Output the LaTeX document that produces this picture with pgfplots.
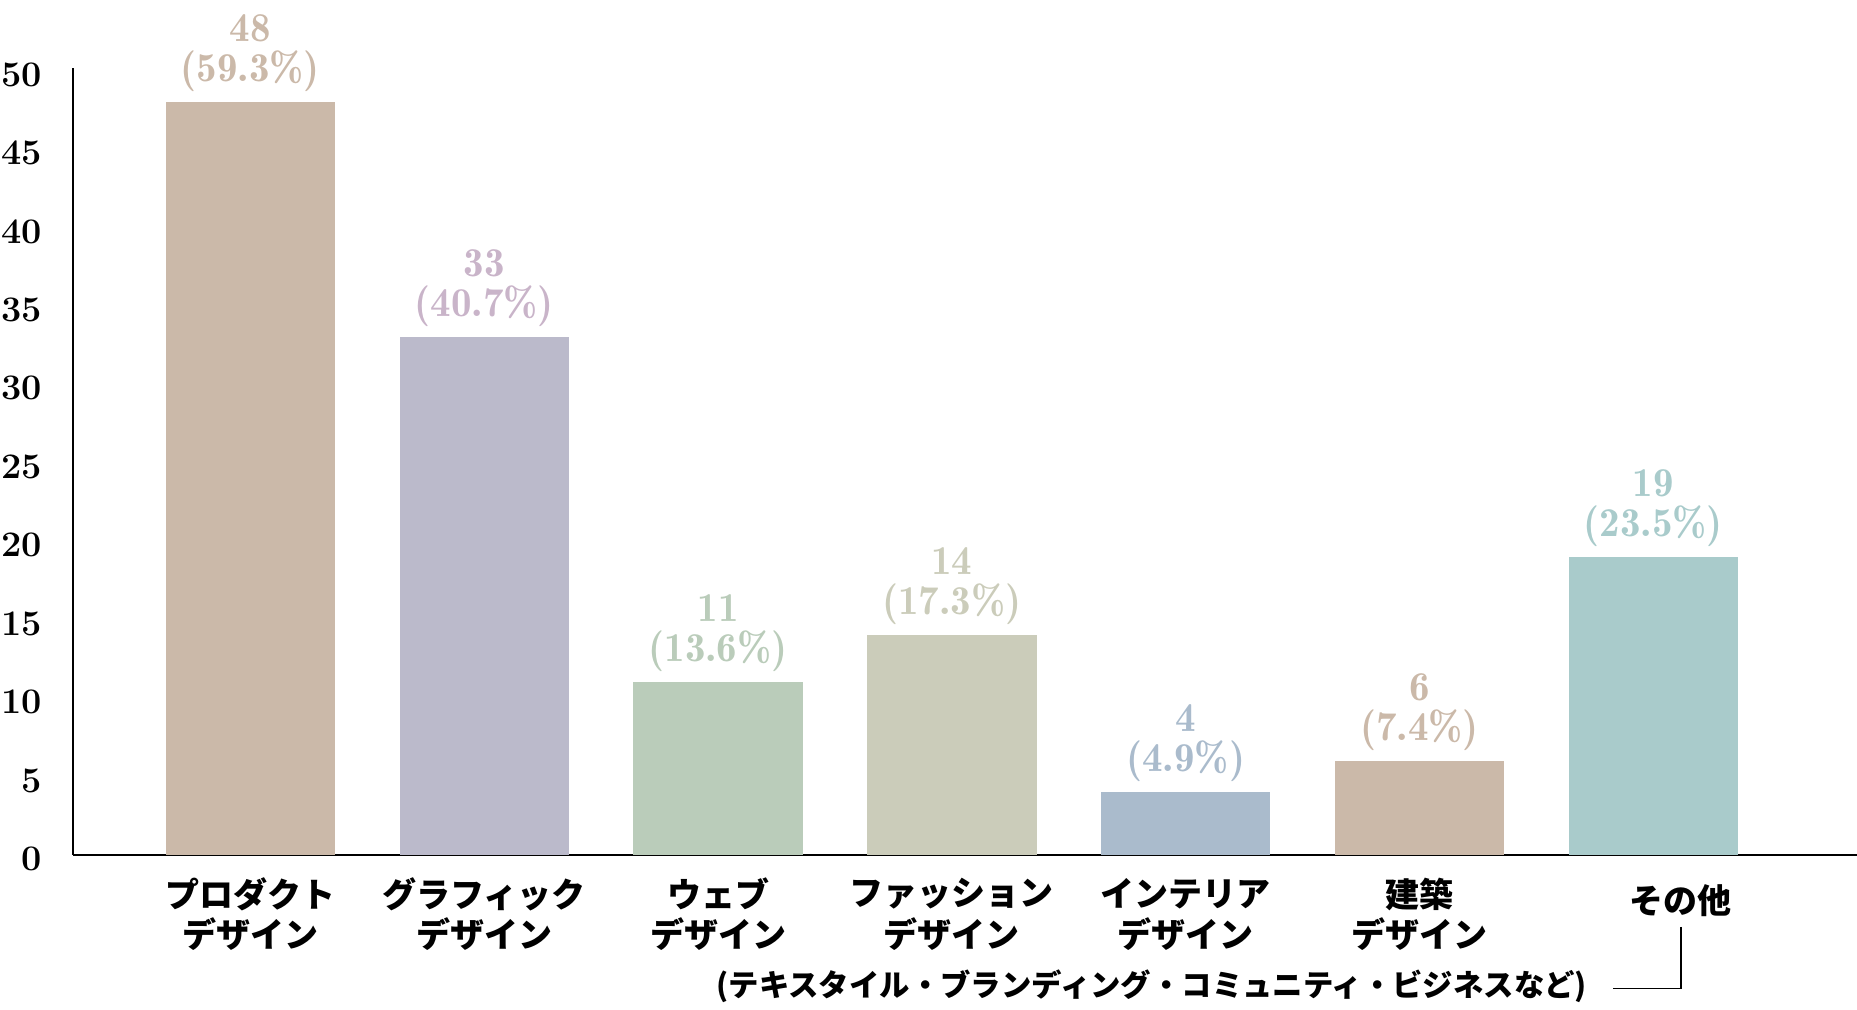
\documentclass[border=0pt]{standalone}
\usepackage{pgfplots}
\pgfplotsset{compat=1.18}
\usepackage{fontspec}
\newfontfamily\jp{Noto Sans CJK JP}
\newfontfamily\demi[Extension=.otf]{lmromandemi10-regular}
\definecolor{cA}{HTML}{CBB9A9}
\definecolor{cB}{HTML}{BBBACB}
\definecolor{cBt}{HTML}{C9B4C9}
\definecolor{cC}{HTML}{BACCBA}
\definecolor{cD}{HTML}{CBCCBA}
\definecolor{cE}{HTML}{AABBCC}
\definecolor{cG}{HTML}{A9CBCB}
\begin{document}
\begin{tikzpicture}
\useasboundingbox (0,0) rectangle (928.5pt,505pt);
\begin{axis}[
  at={(36.5pt,77.5pt)}, anchor=south west,
  scale only axis, width=892pt, height=393.4pt,
  xmin=-0.759, xmax=6.871, ymin=0, ymax=50.15,
  axis x line=bottom, axis y line=left,
  axis line style={-, line width=1pt, black},
  xtick=\empty,
  ytick={0,5,...,50},
  major tick length=0pt,
  yticklabel style={font=\fontsize{18}{18}\selectfont\bfseries, anchor=east, inner sep=0pt, xshift=-15.5pt, yshift=-2pt},
  /pgf/number format/assume math mode=true,
  clip=false,
  ybar, bar width=84.75pt, bar shift=0pt,
  every node near coord/.append style={align=center, anchor=south, inner sep=0pt, yshift=5pt, font=\demi\fontsize{20.5}{20}\selectfont},
]
\addplot[fill=cA, draw=none, nodes near coords={\pgfmathprintnumber{\pgfplotspointmeta}\\(59.3\%)}, every node near coord/.append style={text=cA}] coordinates {(0,48)};
\addplot[fill=cB, draw=none, nodes near coords={\pgfmathprintnumber{\pgfplotspointmeta}\\(40.7\%)}, every node near coord/.append style={text=cBt}] coordinates {(1,33)};
\addplot[fill=cC, draw=none, nodes near coords={\pgfmathprintnumber{\pgfplotspointmeta}\\(13.6\%)}, every node near coord/.append style={text=cC}] coordinates {(2,11)};
\addplot[fill=cD, draw=none, nodes near coords={\pgfmathprintnumber{\pgfplotspointmeta}\\(17.3\%)}, every node near coord/.append style={text=cD}] coordinates {(3,14)};
\addplot[fill=cE, draw=none, nodes near coords={\pgfmathprintnumber{\pgfplotspointmeta}\\(4.9\%)}, every node near coord/.append style={text=cE}] coordinates {(4,4)};
\addplot[fill=cA, draw=none, nodes near coords={\pgfmathprintnumber{\pgfplotspointmeta}\\(7.4\%)}, every node near coord/.append style={text=cA}] coordinates {(5,6)};
\addplot[fill=cG, draw=none, nodes near coords={\pgfmathprintnumber{\pgfplotspointmeta}\\(23.5\%)}, every node near coord/.append style={text=cG}] coordinates {(6,19)};
% category labels
\begin{scope}[every node/.style={font=\jp\bfseries\fontsize{17}{17}\selectfont, inner sep=0pt}]
\node[yshift=-19.5pt] at (axis cs:0,0) {プロダクト};
\node[yshift=-39.5pt] at (axis cs:0,0) {デザイン};
\node[yshift=-19.5pt] at (axis cs:1,0) {グラフィック};
\node[yshift=-39.5pt] at (axis cs:1,0) {デザイン};
\node[yshift=-19.5pt] at (axis cs:2,0) {ウェブ};
\node[yshift=-39.5pt] at (axis cs:2,0) {デザイン};
\node[yshift=-19.5pt] at (axis cs:3,0) {ファッション};
\node[yshift=-39.5pt] at (axis cs:3,0) {デザイン};
\node[yshift=-19.5pt] at (axis cs:4,0) {インテリア};
\node[yshift=-39.5pt] at (axis cs:4,0) {デザイン};
\node[yshift=-19.5pt] at (axis cs:5,0) {建築};
\node[yshift=-39.5pt] at (axis cs:5,0) {デザイン};
\node[yshift=-23pt] at (axis cs:6.118,0) {その他};
\node[yshift=-65.5pt, font=\jp\bfseries\fontsize{15.2}{15.2}\selectfont] at (axis cs:3.855,0) {(テキスタイル・ブランディング・コミュニティ・ビジネスなど)};
\end{scope}
\draw[line width=0.75pt, black] (axis cs:6.118,-4.58) -- (axis cs:6.118,-8.52) -- (axis cs:5.827,-8.52);
\end{axis}
\end{tikzpicture}
\end{document}
